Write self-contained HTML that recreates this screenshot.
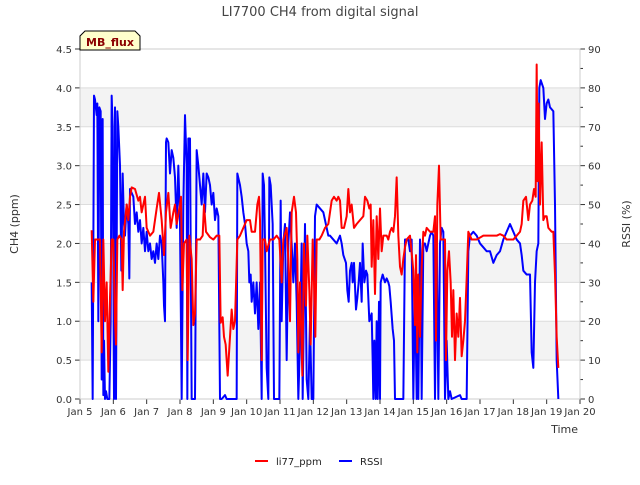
<!DOCTYPE html>
<html><head><meta charset="utf-8"><style>
body{margin:0;background:#fff;}
svg text{font-family:"DejaVu Sans","Liberation Sans",sans-serif;}
</style></head><body>
<svg id="c" width="640" height="480" viewBox="0 0 640 480" xmlns="http://www.w3.org/2000/svg">
<text x="320" y="16" text-anchor="middle" font-size="13" fill="#444">LI7700 CH4 from digital signal</text>
<text transform="translate(18,224) rotate(-90)" text-anchor="middle" font-size="11" fill="#333">CH4 (ppm)</text>
<text transform="translate(630,224) rotate(-90)" text-anchor="middle" font-size="11" fill="#333">RSSI (%)</text>
<text x="578" y="433" text-anchor="end" font-size="11" fill="#333">Time</text>
<g id="bands"></g><g id="grid"></g><g id="axes"></g>
<g id="series"></g>
<g>
<path d="M80,50 L80,36 L85,31 L135,31 L140,36 L140,50 Z" fill="#ffffcc" stroke="#000" stroke-width="1"/>
<text x="110" y="46" text-anchor="middle" font-size="11" font-weight="bold" fill="#8b0000">MB_flux</text>
</g>
<g>
<g><line x1="255" y1="461" x2="268" y2="461" stroke="#f00" stroke-width="2"/><text x="276" y="465" font-size="10" fill="#222">li77_ppm</text></g>
<g><line x1="339" y1="461" x2="352" y2="461" stroke="#00f" stroke-width="2"/><text x="360" y="465" font-size="10" fill="#222">RSSI</text></g>
</g>
</svg>
<script>
const xTicks=["Jan 5","Jan 6","Jan 7","Jan 8","Jan 9","Jan 10","Jan 11","Jan 12","Jan 13","Jan 14","Jan 15","Jan 16","Jan 17","Jan 18","Jan 19","Jan 20"];
const yTicks=[0,0.5,1,1.5,2,2.5,3,3.5,4,4.5];
const y2Ticks=[0,10,20,30,40,50,60,70,80,90];
const chDays=[5.35,5.4,5.45,5.55,5.6,5.65,5.7,5.75,5.8,5.85,5.9,5.95,6.0,6.05,6.08,6.12,6.18,6.25,6.28,6.32,6.4,6.45,6.5,6.55,6.65,6.75,6.8,6.85,6.95,7.0,7.1,7.2,7.3,7.37,7.45,7.52,7.58,7.65,7.72,7.8,7.85,7.9,8.0,8.03,8.07,8.12,8.2,8.23,8.28,8.35,8.4,8.45,8.5,8.6,8.68,8.72,8.78,8.9,9.0,9.1,9.18,9.22,9.28,9.32,9.37,9.43,9.5,9.55,9.6,9.65,9.72,9.8,9.9,10.0,10.1,10.15,10.25,10.32,10.37,10.4,10.45,10.48,10.55,10.6,10.7,10.8,10.9,10.98,11.0,11.05,11.1,11.2,11.25,11.3,11.35,11.42,11.48,11.52,11.55,11.6,11.67,11.72,11.78,11.82,11.88,11.92,11.98,12.02,12.06,12.1,12.18,12.25,12.35,12.45,
12.5,12.55,12.62,12.7,12.75,12.8,12.85,12.92,13.0,13.05,13.1,13.15,13.22,13.3,13.4,13.5,13.55,13.62,13.68,13.72,13.75,13.8,13.85,13.9,13.95,14.0,14.05,14.1,14.2,14.25,14.3,14.35,14.4,14.45,14.5,14.55,14.6,14.65,14.7,14.75,14.8,14.9,15.0,15.05,15.08,15.12,15.15,15.2,15.25,15.3,15.35,15.4,15.5,15.6,15.65,15.68,15.72,15.77,15.82,15.9,15.95,15.98,16.02,16.07,16.12,16.16,16.2,16.25,16.3,16.35,16.4,16.45,16.5,16.55,16.6,16.65,16.75,16.9,17.1,17.3,17.5,17.6,17.7,17.8,17.9,18.0,18.1,18.2,18.25,18.3,18.38,18.45,18.5,18.57,18.62,18.67,18.7,18.73,18.76,18.8,18.85,18.9,18.95,19.0,19.05,19.15,19.2,19.25,19.3,19.35];
const chValues=[2.17,1.25,2.05,2.05,2.05,0.6,2.05,1.0,1.5,0.35,1.3,2.05,2.05,1.0,0.7,2.05,2.1,2.05,1.4,2.15,2.5,2.3,2.6,2.72,2.7,2.55,2.6,2.4,2.6,2.2,2.1,2.15,2.45,2.65,2.3,1.85,2.4,2.65,2.2,2.4,2.5,2.25,2.5,2.6,1.4,2.0,2.05,0.5,2.1,1.8,0.95,1.1,2.05,2.05,2.1,2.5,2.15,2.08,2.05,2.1,2.1,0.98,1.05,0.8,0.7,0.3,0.8,1.15,0.9,1.0,2.05,2.1,2.2,2.3,2.3,2.15,2.15,2.5,2.6,2.3,0.5,2.05,2.05,1.9,2.05,2.05,2.1,2.05,1.9,1.5,2.05,2.2,1.8,1.0,2.4,2.6,2.4,1.8,0.6,1.5,0.3,2.0,1.2,2.1,1.4,0.7,2.05,1.5,0.8,2.05,2.05,2.1,2.2,2.25,
2.4,2.55,2.6,2.55,2.6,2.55,2.2,2.2,2.35,2.7,2.4,2.5,2.2,2.25,2.3,2.35,2.6,2.55,2.45,2.5,1.7,2.3,1.35,2.35,1.8,2.45,1.9,2.1,2.1,2.05,2.15,2.2,2.15,2.35,2.85,2.1,1.7,1.6,1.8,1.95,2.05,2.1,1.65,0.95,1.85,0.6,1.6,0.8,1.7,2.15,2.1,2.2,2.15,2.15,2.35,0.75,2.5,3.0,2.05,2.05,2.05,0.5,1.65,1.9,1.5,0.8,1.4,0.5,1.1,0.8,1.3,0.55,0.75,1.0,1.55,2.15,2.05,2.05,2.1,2.1,2.1,2.12,2.1,2.05,2.05,2.05,2.1,2.15,2.25,2.55,2.6,2.3,2.5,2.55,2.7,2.6,4.3,2.8,3.8,2.5,3.3,2.3,2.35,2.35,2.2,2.15,2.15,1.6,0.8,0.4];
const rsDays=[5.35,5.38,5.42,5.45,5.5,5.52,5.55,5.58,5.62,5.65,5.68,5.7,5.72,5.75,5.78,5.82,5.88,5.92,5.95,5.98,6.02,6.05,6.08,6.12,6.15,6.2,6.24,6.28,6.32,6.35,6.4,6.45,6.48,6.5,6.55,6.6,6.65,6.7,6.75,6.8,6.85,6.9,6.95,7.0,7.05,7.1,7.15,7.2,7.25,7.3,7.35,7.4,7.45,7.5,7.52,7.55,7.58,7.6,7.65,7.7,7.75,7.8,7.85,7.9,7.95,8.0,8.05,8.1,8.15,8.2,8.22,8.25,8.3,8.35,8.4,8.45,8.5,8.55,8.6,8.65,8.7,8.75,8.8,8.85,8.9,8.95,9.0,9.05,9.1,9.15,9.2,9.25,9.35,9.4,9.7,9.72,9.8,9.85,9.9,9.95,10.0,10.05,10.08,10.12,10.15,10.2,10.25,10.3,10.35,10.4,10.45,10.48,10.52,10.55,10.6,10.65,10.68,10.72,10.78,10.82,10.9,10.98,11.02,11.05,11.1,11.15,11.2,11.25,11.3,11.35,11.4,11.45,11.5,11.55,11.6,11.65,11.68,11.75,11.8,11.85,11.9,11.95,12.0,12.05,12.1,12.2,12.3,12.4,12.45,
12.5,12.6,12.7,12.8,12.85,12.9,12.98,13.02,13.06,13.1,13.15,13.18,13.22,13.28,13.32,13.36,13.4,13.45,13.48,13.53,13.58,13.62,13.68,13.75,13.78,13.8,13.83,13.87,13.9,13.93,13.97,14.0,14.02,14.08,14.15,14.2,14.25,14.28,14.32,14.38,14.42,14.45,14.5,14.7,14.75,14.85,14.9,14.95,15.0,15.05,15.1,15.12,15.15,15.2,15.22,15.25,15.3,15.35,15.4,15.45,15.5,15.55,15.6,15.65,15.7,15.75,15.8,15.85,15.9,15.95,16.0,16.05,16.1,16.15,16.4,16.45,16.6,16.65,16.7,16.8,16.9,17.0,17.1,17.2,17.3,17.4,17.45,17.5,17.6,17.7,17.8,17.9,18.0,18.1,18.2,18.25,18.3,18.4,18.5,18.55,18.6,18.65,18.7,18.75,18.78,18.82,18.9,18.95,19.0,19.05,19.1,19.2,19.25,19.3,19.35];
const rsValues=[30,0,78,77,73,76,20,75,74,5,72,1,15,0,2,0,0,20,78,70,0,75,0,74,70,60,33,58,45,42,50,45,31,54,53,52,45,48,43,46,40,44,38,43,38,40,36,38,35,40,36,42,40,30,24,20,66,67,66,58,64,62,57,44,60,45,0,50,73,60,0,67,67,0,0,0,64,60,55,50,58,48,58,57,55,50,53,46,49,47,0,0,1,0,0,58,55,52,48,45,40,38,30,32,25,30,22,30,18,30,0,58,55,40,8,0,57,55,45,0,0,0,51,20,40,45,10,40,48,40,30,40,25,0,15,40,0,45,5,0,20,0,0,47,50,49,48,44,42,
42,41,40,42,40,37,35,28,25,33,35,30,35,23,26,30,35,25,40,30,33,32,20,22,10,0,15,0,20,0,25,0,30,32,30,31,30,29,25,18,15,0,0,0,41,41,38,41,0,30,0,25,0,41,35,0,40,40,38,40,42,43,42,0,43,0,40,44,43,0,15,0,2,0,1,0,0,38,42,43,42,40,39,38,38,35,36,37,38,41,43,45,43,41,40,37,33,32,32,12,8,30,38,40,80,82,80,72,76,77,75,74,50,10,0];

const X0=80,X1=580,Y0=399,Y1=49;
const xs=d=>X0+(d-5)/15*(X1-X0);
const ys=v=>Y0-v/4.5*(Y0-Y1);
const ys2=v=>Y0-v/90*(Y0-Y1);
const NS="http://www.w3.org/2000/svg";
function mk(tag,attrs,parent){const e=document.createElementNS(NS,tag);for(const k in attrs)e.setAttribute(k,attrs[k]);parent.appendChild(e);return e;}
const bands=document.getElementById('bands'),grid=document.getElementById('grid'),axes=document.getElementById('axes'),series=document.getElementById('series');
for(let i=0;i<yTicks.length-1;i++){
  if(i%2===1){const r=mk('rect',{x:X0,y:ys(yTicks[i+1]),width:X1-X0,height:ys(yTicks[i])-ys(yTicks[i+1]),fill:'#f3f3f3'},bands);
  
  }
}
yTicks.forEach(v=>{
  const g=mk('line',{x1:X0,x2:X1,y1:ys(v),y2:ys(v),stroke:'#ddd','stroke-width':1},grid);
  
  
  mk('line',{x1:X0-5,x2:X0,y1:ys(v),y2:ys(v),stroke:'#333'},axes);
  const t=mk('text',{x:X0-8,y:ys(v)+4,'text-anchor':'end','font-size':10,fill:'#333'},axes);
  t.textContent=v.toFixed(1);
  
  
});
for(let v=0;v<=90;v+=5){mk('line',{x1:X1,x2:X1+(v%10===0?5:3),y1:ys2(v),y2:ys2(v),stroke:'#333'},axes);}
y2Ticks.forEach(v=>{
  const t=mk('text',{x:X1+8,y:ys2(v)+4,'font-size':10,fill:'#333'},axes);
  t.textContent=v;
  
  
});
xTicks.forEach((s,i)=>{
  mk('line',{x1:xs(5+i),x2:xs(5+i),y1:Y0,y2:Y0+5,stroke:'#333'},axes);
  const t=mk('text',{x:xs(5+i),y:Y0+16,'text-anchor':'middle','font-size':10,fill:'#333'},axes);
  t.textContent=s;
  
  
});
mk('rect',{x:X0,y:Y1,width:X1-X0,height:Y0-Y1,fill:'none',stroke:'#ccc'},axes);
const pr=mk('polyline',{points:rsDays.map((d,i)=>xs(d)+','+ys2(rsValues[i])).join(' '),fill:'none',stroke:'#00f','stroke-width':2,'stroke-linejoin':'round'},series);


const pc=mk('polyline',{points:chDays.map((d,i)=>xs(d)+','+ys(chValues[i])).join(' '),fill:'none',stroke:'#f00','stroke-width':2,'stroke-linejoin':'round'},series);


</script>
</body></html>
